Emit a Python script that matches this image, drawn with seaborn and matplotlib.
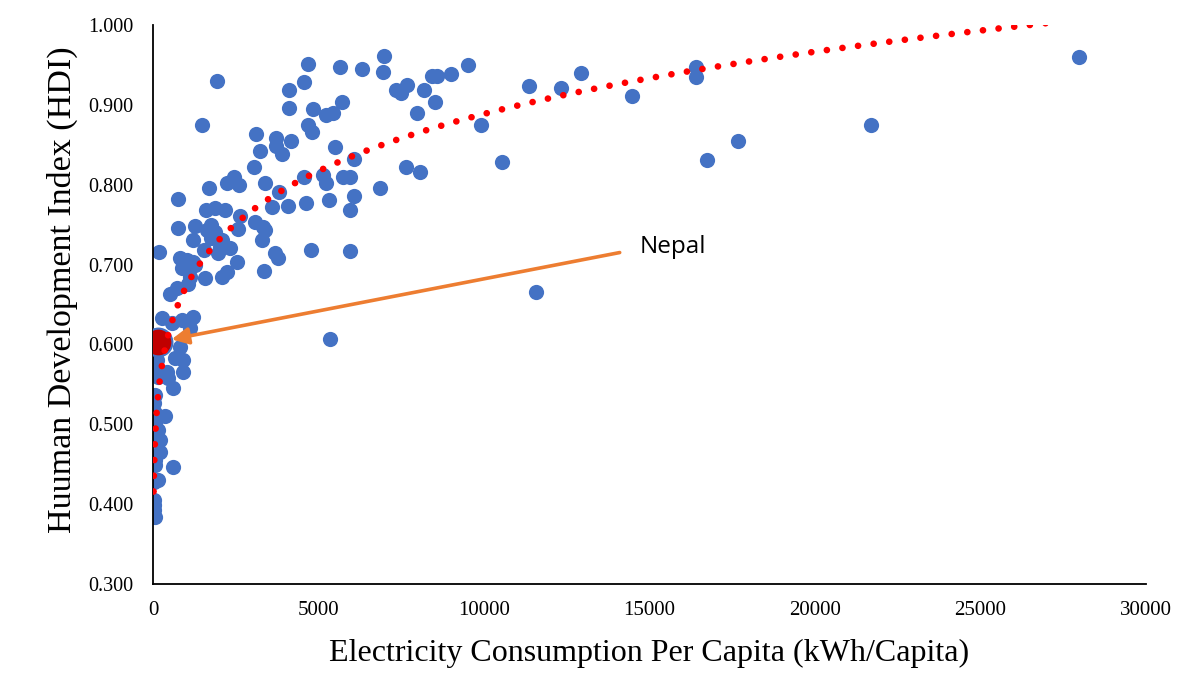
import numpy as np
import pandas as pd
import matplotlib
matplotlib.use("Agg")
import matplotlib.pyplot as plt
import seaborn as sns

# Electricity consumption per capita (kWh) and HDI by country
consumption = [
    27970, 21680, 17670, 16730, 16400, 16400, 14466, 12926, 12322, 11355,
    11567, 10540, 9906, 9513, 9000, 8577, 8426, 8516, 8184, 7973,
    8063, 7641, 7671, 7490, 7339, 6976, 6946, 6312, 5647, 6855,
    6070, 6070, 5949, 5949, 5738, 5708, 5496, 5436, 5225, 5315,
    5225, 5134, 4832, 4802, 4681, 4681, 4560, 4621, 4560, 4772,
    5949, 5345, 4107, 4107, 4168, 3896, 3715, 3715, 4077, 3805,
    3594, 3382, 3231, 3111, 3050, 2597, 2446, 2235, 1691, 755,
    1480, 1933, 3322, 3080, 3382, 3292, 3352, 3684, 3775, 2537,
    2325, 2627, 2567, 2174, 1872, 1601, 1268, 755, 1208, 1752,
    1872, 1631, 1752, 2084, 2023, 1540, 1963, 181, 815, 1027,
    876, 1057, 1208, 1268, 1570, 2084, 2235, 1117, 1057, 725,
    513, 1208, 876, 574, 272, 1117, 815, 906, 664, 121,
    151, 423, 906, 453, 151, 604, 60, 30, 362, 60,
    60, 151, 20, 211, 211, 60, 60, 604, 30, 151,
    20, 20, 30, 60,
]
hdi = [
    0.960, 0.875, 0.855, 0.831, 0.947, 0.935, 0.911, 0.940, 0.921, 0.924,
    0.666, 0.828, 0.875, 0.950, 0.939, 0.936, 0.936, 0.904, 0.919, 0.890,
    0.816, 0.822, 0.925, 0.915, 0.919, 0.961, 0.941, 0.945, 0.947, 0.796,
    0.832, 0.786, 0.768, 0.810, 0.810, 0.904, 0.847, 0.890, 0.887, 0.781,
    0.802, 0.812, 0.895, 0.866, 0.875, 0.951, 0.929, 0.777, 0.810, 0.718,
    0.717, 0.607, 0.919, 0.896, 0.855, 0.838, 0.859, 0.848, 0.773, 0.791,
    0.772, 0.802, 0.842, 0.864, 0.822, 0.800, 0.810, 0.802, 0.796, 0.782,
    0.875, 0.930, 0.747, 0.753, 0.743, 0.731, 0.692, 0.715, 0.708, 0.703,
    0.721, 0.761, 0.745, 0.768, 0.771, 0.768, 0.748, 0.746, 0.731, 0.733,
    0.741, 0.743, 0.750, 0.731, 0.722, 0.718, 0.715, 0.716, 0.708, 0.706,
    0.696, 0.697, 0.703, 0.699, 0.683, 0.684, 0.691, 0.684, 0.676, 0.671,
    0.663, 0.634, 0.631, 0.627, 0.633, 0.621, 0.597, 0.581, 0.583, 0.581,
    0.565, 0.565, 0.565, 0.558, 0.559, 0.545, 0.537, 0.527, 0.510, 0.514,
    0.502, 0.493, 0.480, 0.480, 0.465, 0.455, 0.449, 0.447, 0.428, 0.430,
    0.405, 0.399, 0.393, 0.384,
]

# Highlighted country
nepal_consumption = 151
nepal_hdi = 0.603

# Power trendline y = a * x^b and the consumption range it spans
trend_a = 0.291
trend_b = 0.1212
trend_range = [19, 27970]

x_ticks = [0, 5000, 10000, 15000, 20000, 25000, 30000]
y_ticks = [0.3, 0.4, 0.5, 0.6, 0.7, 0.8, 0.9, 1.0]

BLUE = "#4472C4"
RED = "#FF0000"
DARK_RED = "#C00000"
ORANGE = "#ED7D31"

sns.set_theme(style="white")
plt.rcParams["font.family"] = ["Liberation Serif", "DejaVu Serif"]

df = pd.DataFrame({"kwh": consumption + [nepal_consumption],
                   "hdi": hdi + [nepal_hdi]})
countries = df.iloc[:-1]
nepal = df.iloc[-1:]

fig = plt.figure(figsize=(11.95, 6.98), dpi=100)
ax = fig.add_axes([0.128, 0.1633, 0.831, 0.801])

sns.scatterplot(data=countries, x="kwh", y="hdi", ax=ax, color=BLUE,
                s=120, linewidth=0, alpha=1, zorder=2)
sns.scatterplot(data=nepal, x="kwh", y="hdi", ax=ax, color=DARK_RED,
                s=400, edgecolor=BLUE, linewidth=1.5, zorder=3)

# Dotted power trendline
xs = np.unique(np.concatenate([np.geomspace(*trend_range, 400),
                               np.linspace(*trend_range, 400)]))
ys = trend_a * xs ** trend_b
ax.plot(xs, ys, color=RED, lw=4.8, linestyle=(0, (0.01, 2.35)),
        dash_capstyle="round", zorder=4)

ax.annotate("", xy=(nepal_consumption, nepal_hdi), xytext=(14100, 0.715),
            arrowprops=dict(arrowstyle="-|>", color=ORANGE, lw=2.6,
                            mutation_scale=25, shrinkA=0, shrinkB=10),
            zorder=5)
ax.text(14700, 0.722, "Nepal", fontsize=17.5, family=["Open Sans", "DejaVu Sans"],
        color="black", ha="left", va="center")

ax.set_xlim(0, 30000)
ax.set_ylim(0.3, 1.0)
ax.set_xticks(x_ticks)
ax.set_xticklabels([f"{v}" for v in x_ticks])
ax.set_yticks(y_ticks)
ax.set_yticklabels([f"{v:.3f}" for v in y_ticks])
ax.tick_params(axis="x", length=0, pad=12, labelsize=15, colors="black")
ax.tick_params(axis="y", length=0, pad=14, labelsize=14.5, colors="black")

ax.set_xlabel("Electricity Consumption Per Capita (kWh/Capita)", fontsize=23,
              color="black", labelpad=14)
ax.set_ylabel("Huuman Development Index (HDI)", fontsize=24.5, color="black")
ax.yaxis.set_label_coords(-0.075, 0.526)

for side in ["top", "right"]:
    ax.spines[side].set_visible(False)
for side in ["left", "bottom"]:
    ax.spines[side].set_color("black")
    ax.spines[side].set_linewidth(1.3)

fig.savefig("out.png", dpi=100, facecolor="white")
